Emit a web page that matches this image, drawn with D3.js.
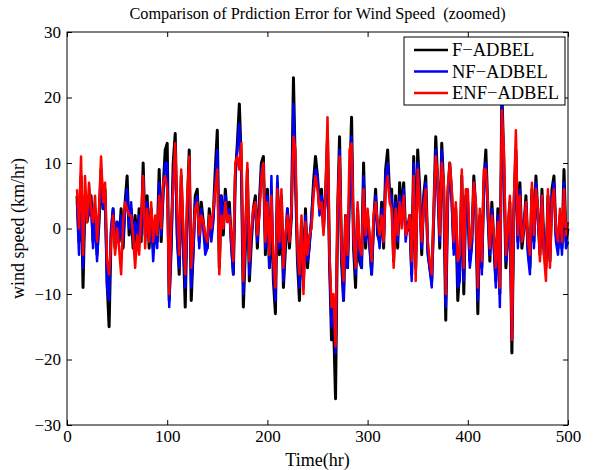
<!DOCTYPE html>
<html><head><meta charset="utf-8">
<script src="https://cdn.jsdelivr.net/npm/d3@7"></script>
<style>body{margin:0;background:#fff}svg{display:block}text{font-family:"Liberation Serif","DejaVu Serif",serif;fill:#000}</style>
</head><body><div id="chart"></div>
<script>
// Time axis: hours 10..500, every 2 hours
const tStart = 10, tStep = 2;
const xTicks = [0, 100, 200, 300, 400, 500];
const yTicks = [-30, -20, -10, 0, 10, 20, 30];
const seriesNames = ["F\u2212ADBEL", "NF\u2212ADBEL", "ENF\u2212ADBEL"];
const seriesColors = ["#000000", "#0000ff", "#ff0000"];

const fAdbel = [
 5,-2,8,-9,5,1,3,5,-2,3,
 -4,1,9,3,6,-8,-15,-1,3,-3,
 1,-2,3,-3,4,8,-1,3,-3,2,
 -3,3,-2,10,-1,5,-3,3,-3,1,
 -2,9,-2,6,12,13,-11,-3,10,14.5,
 -1,-7,8,-2,-12,3,12,-11,-3,5,
 6,-2,4,1,-2,-3,3,-1,2,9,
 15,-6,5,-1,6,2,4,-2,-7,8,
 13,19,10,-12,-3,9,-8,-2,3,5,
 -3,4,10,11,-4,6,-6,3,-8,-13,
 7,-4,5,-9,-3,3,-3,2,23,8,
 -5,-11,1,-8,3,-6,-2,1,7,11,
 8,3,6,0,5,14,-5,-17,-14,-26,
 2,14,-5,-11,2,-6,6,17,-3,-9,
 3,-5,-6,10,-3,2,-2,-7,1,6,
 -1,-2,4,-3,9,12,5,6,-5,5,
 -3,7,2,7,-1,0,2,-7,11,-6,
 12,6,-4,5,8,-3,-6,-8,2,14,
 7,-3,13,6,-14,5,10,5,-3,3,
 -11,-6,8,-10,5,4,-5,-2,8,3,
 -13,2,-6,7,12,3,-5,4,-2,-8,
 3,-10,21,10,-6,-1,4,-19,3,12,
 -2,7,-3,0,5,-3,-6,6,-2,8,
 2,-4,6,-3,-6,5,-5,6,8,-1,
 -3,2,-3,9,-2,0];

const nfAdbel = [
 4,-4,7,-6,4,2,2,4,-3,2,
 -5,2,8,3,5,-9,-11,0,3,-2,
 1,-2,2,-2,3,6,0,4,-2,1,
 -2,2,-1,8,0,4,-2,2,-5,0,
 -3,7,-1,5,10,10,-12,-2,8,12,
 -2,-6,7,-3,-9,2,10,-9,-4,4,
 5,-3,3,0,-4,-3,2,-2,1,7,
 12,-4,5,0,5,1,3,-3,-7,9,
 12,16,9,-10,-2,8,-7,-1,2,4,
 -2,3,9,10,-3,5,-6,8,-7,-11,
 8,-3,4,-8,-2,3,-2,2,19,8,
 -4,-9,0,-9,2,-5,-3,2,6,9,
 8,2,5,1,4,12,-5,-15,-12,-19,
 1,12,-4,-11,1,-6,5,14,-2,-7,
 2,-4,-6,8,-2,2,-3,-7,0,5,
 0,-3,3,-2,8,10,5,5,-4,4,
 -2,5,1,6,-2,1,1,-8,10,-6,
 10,5,-3,4,7,-4,-6,-9,1,12,
 6,-2,12,5,-12,4,9,4,-4,2,
 -9,-8,7,-8,4,3,-6,-3,7,2,
 -11,1,-7,6,10,2,-4,3,-3,-9,
 2,-12,19,9,-5,-2,3,-17,2,11,
 -3,6,-2,1,4,-4,-7,5,-3,7,
 1,-3,5,-4,-5,4,-4,5,7,-2,
 -4,1,-4,7,-3,-2];

const enfAdbel = [
 6,0,11,-4,8,1,7,3,1,5,
 -2,3,11,4,7,-5,-7,-2,2,-4,
 0,-3,-7,1,4,3,2,2,-1,-6,
 -1,-4,2,8,-3,3,-2,4,-2,2,
 -1,5,0,7,8,6,-10,1,6,13,
 3,-4,9,0,-7,5,11,-6,-1,3,
 4,-1,2,1,-1,-2,2,0,3,6,
 9,-7,2,0,4,1,2,-1,-5,10,
 11,9,13,-8,-1,10,-5,0,3,4,
 -1,2,8,10,-2,4,-4,5,-5,-9,
 6,-2,6,-6,-1,2,-2,3,14,12,
 -3,-7,2,-10,1,-4,-1,0,5,8,
 6,3,4,-1,5,17,-4,-12,-10,-18,
 3,11,-3,-8,2,-4,12,13,-1,-6,
 4,-3,-4,6,-1,3,-1,-5,2,4,
 1,-1,2,-2,6,8,4,3,-6,3,
 -1,4,0,5,-1,0,2,-5,8,-8,
 9,4,-2,3,6,-2,-5,-7,3,11,
 8,-1,10,7,-10,6,10,6,-2,4,
 -5,-4,9,-6,6,6,-3,-1,7,4,
 -9,3,-5,9,9,4,-3,2,-1,-6,
 1,-9,18,12,-4,0,5,-17,4,15,
 -1,5,-2,0,4,-2,-4,7,-1,6,
 3,-5,5,-4,-8,6,-6,4,6,0,
 -2,3,-2,6,-1,1];

const W = 593, H = 470;
const m = {left: 67, right: 25, top: 32, bottom: 45};
const svg = d3.select("#chart").append("svg").attr("width", W).attr("height", H);
const x = d3.scaleLinear().domain([0, 500]).range([m.left, W - m.right]);
const y = d3.scaleLinear().domain([-30, 30]).range([H - m.bottom, m.top]);
const pw = W - m.right - m.left, ph = H - m.bottom - m.top;

const allSeries = [fAdbel, nfAdbel, enfAdbel];
const line = d3.line().x((d, i) => x(tStart + i * tStep)).y(d => y(d));
const g = svg.append("g");
allSeries.forEach((s, k) => {
  g.append("path").datum(s).attr("d", line)
    .attr("fill", "none").attr("stroke", seriesColors[k])
    .attr("stroke-width", k === 0 ? 3 : 2.5).attr("stroke-linejoin", "round");
});

// axes (MATLAB style: ticks inward on all sides)
const tl = 5;
svg.append("g").attr("transform", `translate(0,${H - m.bottom})`)
  .call(d3.axisBottom(x).tickValues(xTicks).tickSize(-tl).tickPadding(5))
  .call(a => a.select(".domain").remove());
svg.append("g").attr("transform", `translate(0,${m.top})`)
  .call(d3.axisTop(x).tickValues(xTicks).tickSize(-tl).tickFormat(""))
  .call(a => a.select(".domain").remove());
svg.append("g").attr("transform", `translate(${m.left},0)`)
  .call(d3.axisLeft(y).tickValues(yTicks).tickSize(-tl).tickPadding(6).tickFormat(d => d < 0 ? "\u2212" + Math.abs(d) : d))
  .call(a => a.select(".domain").remove());
svg.append("g").attr("transform", `translate(${W - m.right},0)`)
  .call(d3.axisRight(y).tickValues(yTicks).tickSize(-tl).tickFormat(""))
  .call(a => a.select(".domain").remove());
svg.selectAll(".tick line").attr("stroke", "#000");
svg.selectAll(".tick text").style("font-size", "17px").style("font-family", "'Liberation Serif', serif").attr("fill", "#000");
svg.append("rect").attr("x", m.left).attr("y", m.top).attr("width", pw).attr("height", ph)
  .attr("fill", "none").attr("stroke", "#000").attr("stroke-width", 1);

// titles
svg.append("text").attr("x", m.left + pw / 2).attr("y", 19).attr("text-anchor", "middle")
  .attr("xml:space", "preserve").style("font-size", "16.3px")
  .text("Comparison of Prdiction Error for Wind Speed  (zoomed)");
svg.append("text").attr("x", m.left + pw / 2).attr("y", 466).attr("text-anchor", "middle")
  .style("font-size", "18px").text("Time(hr)");
svg.append("text").attr("transform", `translate(24,${m.top + ph / 2}) rotate(-90)`).attr("text-anchor", "middle")
  .style("font-size", "18px").text("wind speed (km/hr)");

// legend
const lg = svg.append("g").attr("transform", "translate(404,37)");
lg.append("rect").attr("width", 161).attr("height", 68).attr("fill", "#fff").attr("stroke", "#000");
seriesNames.forEach((n, k) => {
  const yy = 13 + k * 21.5;
  lg.append("line").attr("x1", 10).attr("x2", 44).attr("y1", yy).attr("y2", yy)
    .attr("stroke", seriesColors[k]).attr("stroke-width", 2.5);
  lg.append("text").attr("x", 48).attr("y", yy + 6).style("font-size", "18.5px").text(n);
});
</script></body></html>
